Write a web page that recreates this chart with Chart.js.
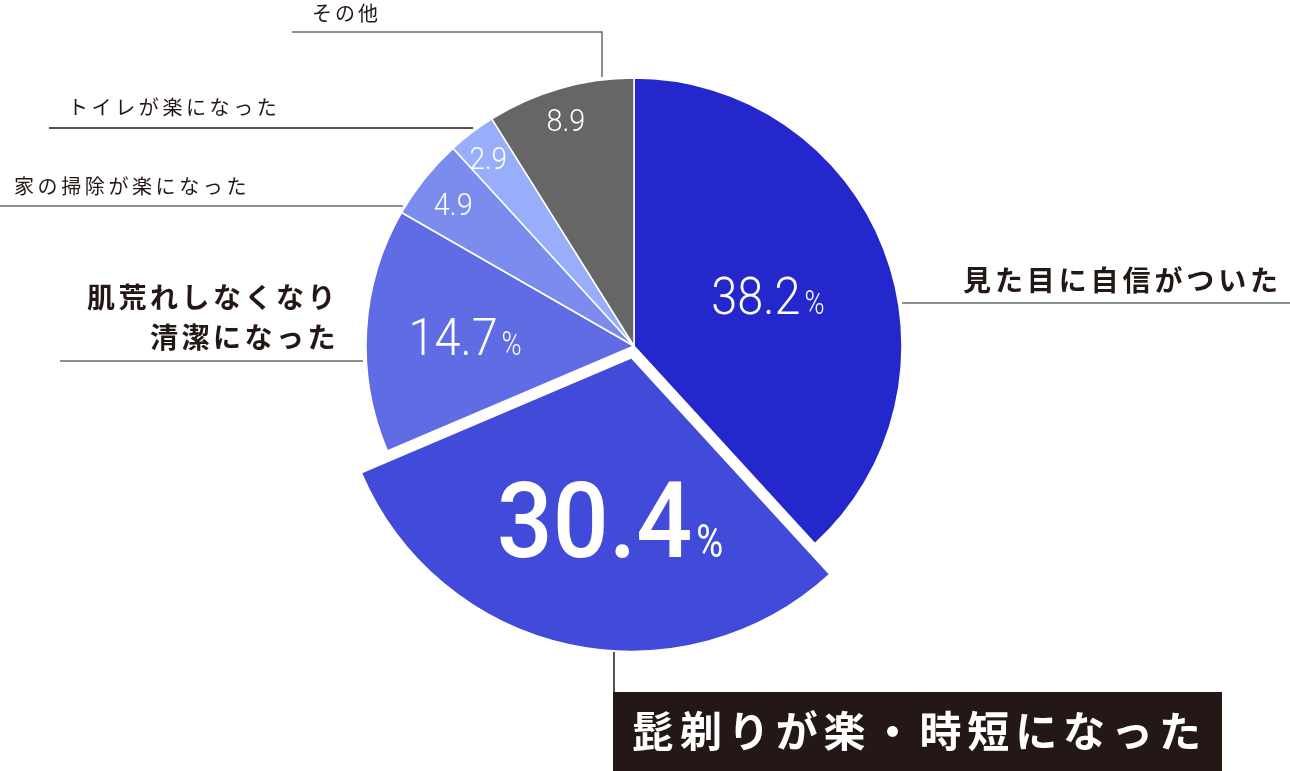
<!DOCTYPE html>
<html lang="ja">
<head>
<meta charset="utf-8">
<title>Pie</title>
<script src="https://cdn.jsdelivr.net/npm/chart.js@4"></script>
<style>
  html, body { margin: 0; padding: 0; background: #fff; }
  #wrap { width: 1290px; height: 771px; position: relative; }
</style>
</head>
<body>
<div id="wrap"><canvas id="pieChart"></canvas></div>
<script>
// data (clockwise from 12 o'clock)
const categories = ['見た目に自信がついた', '髭剃りが楽・時短になった', '肌荒れしなくなり清潔になった', '家の掃除が楽になった', 'トイレが楽になった', 'その他'];
const shares = [38.2, 30.4, 14.7, 4.9, 2.9, 8.9];
const showPercent = [true, true, true, false, false, false];
const sliceColors = ['#2427cc', '#424bd9', '#5f6ce4', '#7b8cee', '#99aefa', '#666666'];

// label styling per slice: [radius fraction, font size, weight, x-squeeze, percent size, percent weight, nudge x, nudge y]
const labelStyle = [
    [0.52, 52, 300, 0.9, 34, 300, 4, 0],
    [0.57, 106, 500, 0.93, 46, 400, 14, -2],
    [0.62, 52, 300, 0.9, 34, 300, -3, 0],
    [0.85, 32, 300, 0.9, 0, 300, -3, 0],
    [0.88, 31, 300, 0.9, 0, 300, -3, 0],
    [0.88, 32, 300, 0.9, 0, 300, -3, 0]
];

const JP = '"Noto Sans CJK JP", "Noto Sans", sans-serif';
const NUM = 'Roboto, "Noto Sans", sans-serif';

// exploded slice is drawn a bit bigger than the rest
const bigSlice = {
    id: 'bigSlice',
    afterDatasetsUpdate(chart) {
        const arc = chart.getDatasetMeta(0).data[1];
        arc.outerRadius = arc.outerRadius * 1.093;
    }
};

const sliceLabels = {
    id: 'sliceLabels',
    afterDatasetsDraw(chart) {
        const ctx = chart.ctx;
        const meta = chart.getDatasetMeta(0);
        meta.data.forEach((arc, i) => {
            const [frac, size, weight, sx, pctSize, pctWeight, nx, ny] = labelStyle[i];
            const mid = (arc.startAngle + arc.endAngle) / 2;
            const shift = (arc.options.offset || 0) / 4;
            const r = arc.outerRadius * frac + shift;
            const cx = arc.x + Math.cos(mid) * r + nx;
            const cy = arc.y + Math.sin(mid) * r + ny;
            const num = shares[i].toFixed(1);

            ctx.save();
            ctx.fillStyle = '#fff';
            ctx.textBaseline = 'alphabetic';
            ctx.font = weight + ' ' + size + 'px ' + NUM;
            const numW = ctx.measureText(num).width * sx;
            let pctW = 0;
            if (showPercent[i]) {
                ctx.font = pctWeight + ' ' + pctSize + 'px ' + NUM;
                pctW = ctx.measureText('%').width * 0.8 + 4;
            }
            const x0 = cx - (numW + pctW) / 2;
            const base = cy + size * 0.355;
            ctx.save();
            ctx.translate(x0, base);
            ctx.scale(sx, 1);
            ctx.font = weight + ' ' + size + 'px ' + NUM;
            ctx.fillText(num, 0, 0);
            ctx.restore();
            if (showPercent[i]) {
                ctx.save();
                ctx.translate(x0 + numW + 4, base);
                ctx.scale(0.8, 1);
                ctx.font = pctWeight + ' ' + pctSize + 'px ' + NUM;
                ctx.fillText('%', 0, 0);
                ctx.restore();
            }
            ctx.restore();
        });
    }
};

function line(ctx, pts, color) {
    ctx.beginPath();
    ctx.moveTo(pts[0][0], pts[0][1]);
    for (let k = 1; k < pts.length; k++) ctx.lineTo(pts[k][0], pts[k][1]);
    ctx.strokeStyle = color;
    ctx.lineWidth = 1.5;
    ctx.stroke();
}

function text(ctx, str, x, y, font, color, align, spacing) {
    ctx.font = font;
    ctx.fillStyle = color;
    ctx.textAlign = align;
    ctx.textBaseline = 'middle';
    ctx.letterSpacing = spacing + 'px';
    ctx.fillText(str, x, y);
    ctx.letterSpacing = '0px';
}

// category call-outs with leader lines
const callouts = {
    id: 'callouts',
    afterDraw(chart) {
        const ctx = chart.ctx;
        ctx.save();
        const dark = '#231815';
        const grey = '#6a6a6a';

        // その他
        line(ctx, [[292, 32], [602, 32], [602, 77]], grey);
        text(ctx, categories[5], 312, 13, '400 20px ' + JP, dark, 'left', 3);

        // トイレが楽になった
        line(ctx, [[49, 128], [473, 128]], dark);
        text(ctx, categories[4], 68, 107, '400 20px ' + JP, dark, 'left', 3.6);

        // 家の掃除が楽になった
        line(ctx, [[0, 206], [403, 206]], grey);
        text(ctx, categories[3], 14, 186, '400 20px ' + JP, dark, 'left', 3.6);

        // 肌荒れしなくなり / 清潔になった
        line(ctx, [[60, 361], [363, 361]], grey);
        text(ctx, '肌荒れしなくなり', 339, 297, '700 28px ' + JP, dark, 'right', 3.5);
        text(ctx, '清潔になった', 339, 337, '700 28px ' + JP, dark, 'right', 3.5);

        // 見た目に自信がついた
        line(ctx, [[902, 303], [1290, 303]], grey);
        text(ctx, categories[0], 963, 280, '700 28px ' + JP, dark, 'left', 3.9);

        // 髭剃りが楽・時短になった (boxed)
        line(ctx, [[614, 652], [614, 692]], dark);
        ctx.fillStyle = dark;
        ctx.fillRect(613, 692, 609, 79);
        text(ctx, categories[1], 632, 731, '700 42px ' + JP, '#ffffff', 'left', 5.9);
        ctx.restore();
    }
};

new Chart(document.getElementById('pieChart'), {
    type: 'pie',
    data: {
        labels: categories,
        datasets: [{
            data: shares,
            backgroundColor: sliceColors,
            borderColor: '#ffffff',
            borderWidth: 1.5,
            offset: [0, 48, 0, 0, 0, 0],
            radius: 268
        }]
    },
    options: {
        responsive: true,
        maintainAspectRatio: false,
        animation: false,
        layout: { padding: { left: 0, right: 22, top: 0, bottom: 79 } },
        plugins: {
            legend: { display: false },
            tooltip: { enabled: false }
        }
    },
    plugins: [bigSlice, sliceLabels, callouts]
});
</script>
</body>
</html>
